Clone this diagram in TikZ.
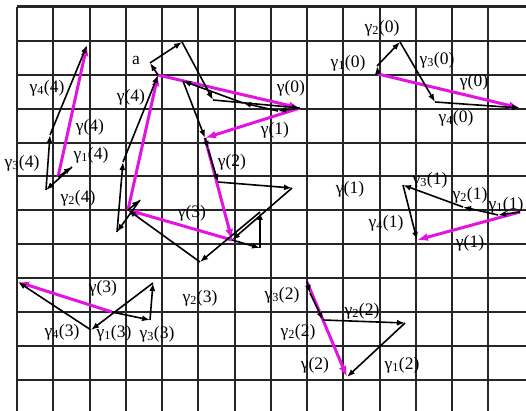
\documentclass[tikz,border=0pt]{standalone}
\usepackage{fontspec}
\setmainfont{Liberation Serif}
\usetikzlibrary{arrows.meta}
\definecolor{sumcol}{RGB}{226,20,226}
\newcommand{\gs}[2]{γ\textsubscript{#1}(#2)}

\begin{document}
\begin{tikzpicture}[x=1pt, y=-1pt,
    gridline/.style={line width=2pt, black!85},
    part/.style={-{Latex[length=8pt,width=6pt]}, line width=1.6pt},
    total/.style={-{Latex[length=11pt,width=8pt]}, line width=3pt, sumcol},
    lab/.style={font=\fontsize{17.5}{18}\selectfont, inner sep=0pt}
  ]
  \useasboundingbox (0,0) rectangle (526,411);
  % grid
  \foreach \i in {0,...,13}
    \draw[gridline] ({17+36.25*\i},7) -- ({17+36.25*\i},411);
  \foreach \j in {1,...,11}
    \draw[gridline] (17,{7+33.9*\j}) -- (526,{7+33.9*\j});
  \draw[gridline, line width=3pt] (17,7) -- (526,7);

  % group 0
  \coordinate (g0s) at (378,74);  \coordinate (g0a) at (377,66);
  \coordinate (g0b) at (400,42);  \coordinate (g0c) at (435,102);
  \coordinate (g0e) at (520,108);
  % group 1
  \coordinate (g1s) at (520,212); \coordinate (g1a) at (498,215);
  \coordinate (g1b) at (463,207); \coordinate (g1c) at (403,185);
  \coordinate (g1e) at (417,240);
  % group 2
  \coordinate (g2s) at (307,282); \coordinate (g2a) at (310,293);
  \coordinate (g2b) at (323,320); \coordinate (g2c) at (405,323);
  \coordinate (g2e) at (347,377);
  % group 3
  \coordinate (g3s) at (112,312); \coordinate (g3a) at (150,320);
  \coordinate (g3b) at (153,283); \coordinate (g3c) at (91,330);
  \coordinate (g3e) at (18,282);
  % group 4
  \coordinate (g4s) at (58,177);  \coordinate (g4a) at (72,167);
  \coordinate (g4b) at (46,190);  \coordinate (g4c) at (50,135);
  \coordinate (g4e) at (87,45);
  % closed sum in the middle
  \coordinate (m0) at (158,75);   \coordinate (m1) at (300,108);
  \coordinate (m2) at (205,138);  \coordinate (m3) at (232,240);
  \coordinate (m4) at (128,210);
  \coordinate (m0a) at (150,63);  \coordinate (m0b) at (182,42);
  \coordinate (m0c) at (213,100);
  \coordinate (m1a) at (278,111); \coordinate (m1b) at (243,103);
  \coordinate (m1c) at (183,81);
  \coordinate (m2a) at (208,149); \coordinate (m2b) at (218,182);
  \coordinate (m2c) at (292,188);
  \coordinate (m3a) at (260,248); \coordinate (m3b) at (260,212);
  \coordinate (m3c) at (200,262);
  \coordinate (m4a) at (140,200); \coordinate (m4b) at (117,232);
  \coordinate (m4c) at (123,162);

  % resultants
  \draw[total] (g0s) -- (g0e);
  \draw[total] (g1s) -- (g1e);
  \draw[total] (g2s) -- (g2e);
  \draw[total] (g3s) -- (g3e);
  \draw[total] (g4s) -- (g4e);
  \draw[total] (m0) -- (m1);
  \draw[total] (m1) -- (m2);
  \draw[total] (m2) -- (m3);
  \draw[total] (m3) -- (m4);
  \draw[total] (m4) -- (m0);

  % components
  \foreach \g in {g0,g1,g2,g3,g4} {
    \draw[part] (\g s) -- (\g a);
    \draw[part] (\g a) -- (\g b);
    \draw[part] (\g b) -- (\g c);
    \draw[part] (\g c) -- (\g e);
  }
  \foreach \k/\n in {0/1,1/2,2/3,3/4,4/0} {
    \draw[part] (m\k) -- (m\k a);
    \draw[part] (m\k a) -- (m\k b);
    \draw[part] (m\k b) -- (m\k c);
    \draw[part] (m\k c) -- (m\n);
  }

  % labels, group 0
  \node[lab] (l01) at (348,63) {\gs{1}{0}};
  \node[lab] (l02) at (382,28) {\gs{2}{0}};
  \node[lab] (l03) at (437,60) {\gs{3}{0}};
  \node[lab] (l04) at (456,118) {\gs{4}{0}};
  \node[lab] (l0)  at (474,82) {γ(0)};
  % group 1
  \node[lab] (l1x) at (350,189) {γ(1)};
  \node[lab] (l13) at (430,180) {\gs{3}{1}};
  \node[lab] (l12) at (470,195) {\gs{2}{1}};
  \node[lab] (l11) at (506,205) {\gs{1}{1}};
  \node[lab] (l14) at (386,223) {\gs{4}{1}};
  \node[lab] (l1)  at (470,243) {γ(1)};
  % group 2
  \node[lab] (l23) at (282,295) {\gs{3}{2}};
  \node[lab] (l22) at (298,332) {\gs{2}{2}};
  \node[lab] (l2x) at (362,311) {\gs{2}{2}};
  \node[lab] (l21) at (402,365) {\gs{1}{2}};
  \node[lab] (l2)  at (315,365) {γ(2)};
  % group 3
  \node[lab] (l3)  at (103,288) {γ(3)};
  \node[lab] (l32) at (200,298) {\gs{2}{3}};
  \node[lab] (l34) at (62,332) {\gs{4}{3}};
  \node[lab] (l31) at (114,333) {\gs{1}{3}};
  \node[lab] (l33) at (157,334) {\gs{3}{3}};
  % group 4
  \node[lab] (l44) at (47,88) {\gs{4}{4}};
  \node[lab] (l4)  at (90,127) {γ(4)};
  \node[lab] (l41) at (91,155) {\gs{1}{4}};
  \node[lab] (l43) at (22,163) {\gs{3}{4}};
  \node[lab] (l42) at (78,198) {\gs{2}{4}};
  % middle
  \node[lab] (lma) at (136,60) {a};
  \node[lab] (lm4) at (131,97) {γ(4)};
  \node[lab] (lm0) at (291,88) {γ(0)};
  \node[lab] (lm1) at (275,130) {γ(1)};
  \node[lab] (lm2) at (232,162) {γ(2)};
  \node[lab] (lm3) at (192,213) {γ(3)};
\end{tikzpicture}
\end{document}
